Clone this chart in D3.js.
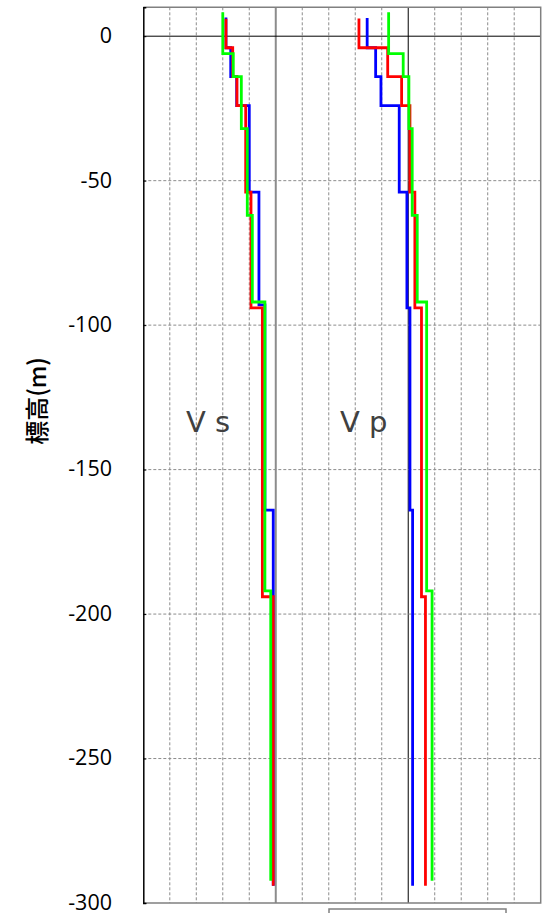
<!DOCTYPE html>
<html>
<head>
<meta charset="utf-8">
<script src="https://cdn.jsdelivr.net/npm/d3@7"></script>
<style>
  html, body { margin: 0; padding: 0; background: #fff; }
  svg { display: block; }
</style>
</head>
<body>
<svg width="548" height="913"></svg>
<script>
// layer boundaries (elevation, m) and velocities (km/s)
var vsBlueDepth = [6.5, -4, -14, -24, -54, -93, -164, -294];
var vsBlue      = [0.624, 0.66, 0.705, 0.80, 0.873, 0.918, 0.981];
var vsRedDepth  = [6, -4, -14, -24, -54, -94, -194, -294];
var vsRed       = [0.624, 0.675, 0.707, 0.773, 0.813, 0.899, 0.981];
var vsGreenDepth = [8.3, -6, -14, -32, -62, -92, -192, -292.3];
var vsGreen      = [0.60, 0.679, 0.74, 0.785, 0.823, 0.918, 0.962];

var vpBlueDepth = [6.3, -4, -14, -24, -54, -94, -164, -294];
var vpBlue      = [1.69, 1.754, 1.794, 1.932, 1.99, 2.013, 2.033];
var vpRedDepth  = [6.1, -4, -14, -24, -54, -94, -194, -294];
var vpRed       = [1.628, 1.845, 1.95, 2.013, 2.05, 2.10, 2.13];
var vpGreenDepth = [8.3, -6, -14, -32, -62, -92, -192, -292.3];
var vpGreen      = [1.852, 1.962, 2.005, 2.03, 2.068, 2.139, 2.18];

var yTicks = [0, -50, -100, -150, -200, -250, -300];
var xGrid = d3.range(1, 15).map(function(i) { return +(i * 0.2).toFixed(1); });

var svg = d3.select("svg"),
    plotLeft = 143.3, plotRight = 540.7, plotTop = 7.3, plotBottom = 903;

var x = d3.scaleLinear().domain([0, 3]).range([plotLeft, plotRight]);
var y = d3.scaleLinear().domain([-300, 10]).range([plotBottom, plotTop]);

// vertical grid
svg.append("g")
    .selectAll("line")
    .data(xGrid)
    .enter().append("line")
    .attr("x1", function(d) { return x(d); })
    .attr("x2", function(d) { return x(d); })
    .attr("y1", plotTop)
    .attr("y2", plotBottom)
    .attr("stroke", function(d) { return d === 2 ? "#000" : "#8c8c8c"; })
    .attr("stroke-width", function(d) { return d === 1 ? 2 : 1; })
    .attr("stroke-dasharray", function(d) { return (d === 1 || d === 2) ? null : "3,2"; });

// horizontal grid
svg.append("g")
    .selectAll("line")
    .data(yTicks.filter(function(d) { return d > -300; }))
    .enter().append("line")
    .attr("x1", plotLeft)
    .attr("x2", plotRight)
    .attr("y1", function(d) { return y(d); })
    .attr("y2", function(d) { return y(d); })
    .attr("stroke", function(d) { return d === 0 ? "#000" : "#8c8c8c"; })
    .attr("stroke-width", 1)
    .attr("stroke-dasharray", function(d) { return d === 0 ? null : "3,2"; });

// frame
svg.append("path")
    .attr("d", "M" + plotLeft + "," + plotTop + "H" + plotRight + "V" + plotBottom + "H" + plotLeft)
    .attr("fill", "none")
    .attr("stroke", "#808080")
    .attr("stroke-width", 1.5);

// y axis
var yAxis = d3.axisRight(y).tickValues(yTicks).tickSize(3).tickFormat("");
svg.append("g")
    .attr("transform", "translate(" + plotLeft + ",0)")
    .call(yAxis)
    .call(function(g) {
        g.select(".domain").attr("stroke", "#000").attr("stroke-width", 1.5);
        g.selectAll(".tick line").attr("stroke", "#000");
    });

svg.append("g")
    .selectAll("text")
    .data(yTicks)
    .enter().append("text")
    .attr("x", 112)
    .attr("y", function(d) { return y(d); })
    .attr("dy", "0.32em")
    .attr("text-anchor", "end")
    .attr("font-family", "'Open Sans', sans-serif")
    .attr("font-size", 21.5)
    .attr("fill", "#000")
    .text(function(d) { return d; });

svg.append("text")
    .attr("transform", "translate(38,401) rotate(-90)")
    .attr("dy", "0.35em")
    .attr("text-anchor", "middle")
    .attr("font-family", "'Noto Sans CJK JP', sans-serif")
    .attr("font-size", 24)
    .attr("font-weight", 500)
    .attr("fill", "#000")
    .text("標高(m)");

// step profiles
function steps(depth, vel) {
    var pts = [];
    vel.forEach(function(v, i) {
        pts.push([v, depth[i]]);
        pts.push([v, depth[i + 1]]);
    });
    return pts;
}

var line = d3.line()
    .x(function(d) { return x(d[0]); })
    .y(function(d) { return y(d[1]); });

var profiles = [
    {d: vsBlueDepth, v: vsBlue, c: "#0000ff"},
    {d: vpBlueDepth, v: vpBlue, c: "#0000ff"},
    {d: vsRedDepth, v: vsRed, c: "#ff0000"},
    {d: vpRedDepth, v: vpRed, c: "#ff0000"},
    {d: vsGreenDepth, v: vsGreen, c: "#00ff00"},
    {d: vpGreenDepth, v: vpGreen, c: "#00ff00"}
];

svg.append("g")
    .selectAll("path")
    .data(profiles)
    .enter().append("path")
    .attr("d", function(p) { return line(steps(p.d, p.v)); })
    .attr("fill", "none")
    .attr("stroke", function(p) { return p.c; })
    .attr("stroke-width", 2.8);

// labels
svg.append("text")
    .attr("x", 186)
    .attr("y", 432)
    .attr("font-family", "'DejaVu Sans', sans-serif")
    .attr("font-size", 29)
    .attr("fill", "#404040")
    .text("V s");

svg.append("text")
    .attr("x", 340)
    .attr("y", 432)
    .attr("font-family", "'DejaVu Sans', sans-serif")
    .attr("font-size", 29)
    .attr("fill", "#404040")
    .text("V p");

// legend box (cut off at the bottom)
svg.append("rect")
    .attr("x", 329)
    .attr("y", 909)
    .attr("width", 177)
    .attr("height", 20)
    .attr("fill", "#fff")
    .attr("stroke", "#808080")
    .attr("stroke-width", 1.5);
</script>
</body>
</html>
